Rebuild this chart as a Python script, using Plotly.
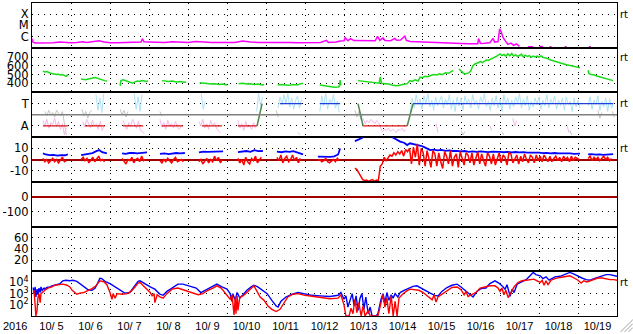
import plotly.graph_objects as go
from plotly.subplots import make_subplots

# ---------------- time axis: days since 2016-10-05 00:00 UT ----------------
DAY_LABELS = ["10/ 5", "10/ 6", "10/ 7", "10/ 8", "10/ 9", "10/10", "10/11", "10/12",
              "10/13", "10/14", "10/15", "10/16", "10/17", "10/18", "10/19"]
N_DAYS = 15

# ---------------- panel 1: GOES X-ray flux (W/m2) ----------------
XRAY_T = [0.0, 0.03, 0.1, 0.25, 0.4, 0.55, 0.7, 0.85, 1.0, 1.15, 1.3, 1.4, 1.5, 1.6, 1.72, 1.85,
          2.0, 2.2, 2.4, 2.55, 2.7, 2.8, 2.83, 2.87, 3.0, 3.2, 3.4, 3.6, 3.8, 4.0, 4.2, 4.4, 4.6,
          4.8, 5.0, 5.2, 5.4, 5.6, 5.8, 6.0, 6.2, 6.4, 6.6, 6.8, 7.0, 7.2, 7.4, 7.55, 7.6, 7.8,
          7.9, 8.0, 8.03, 8.1, 8.17, 8.25, 8.4, 8.6, 8.8, 8.86, 8.92, 9.0, 9.05, 9.2, 9.3, 9.35,
          9.45, 9.56, 9.6, 9.7, 9.85, 10.0, 10.2, 10.4, 10.6, 10.8, 11.0, 11.2, 11.43, 11.45,
          11.5, 11.6, 11.74, 11.82, 11.86, 11.95, 11.99, 12.03, 12.08, 12.15, 12.2, 12.28, 12.35,
          12.42, 12.5, None, 12.72, 12.85, None, 13.01, 13.1, None, 13.27, 13.32, None,
          13.66, 13.71, None, 14.28, 14.33]
XRAY_FLUX = [6.5e-7, 3.0e-7, 2.6e-7, 2.6e-7, 2.8e-7, 2.8e-7, 3.2e-7, 2.8e-7, 2.8e-7, 2.9e-7,
             3.4e-7, 3.0e-7, 3.3e-7, 3.6e-7, 4.2e-7, 3.2e-7, 2.8e-7, 2.8e-7, 3.0e-7, 3.1e-7,
             3.2e-7, 3.2e-7, 6.5e-7, 3.4e-7, 3.3e-7, 3.1e-7, 3.0e-7, 3.5e-7, 3.0e-7, 2.9e-7,
             3.6e-7, 3.0e-7, 2.9e-7, 3.0e-7, 3.2e-7, 3.0e-7, 4.0e-7, 3.2e-7, 3.0e-7, 3.1e-7,
             3.0e-7, 2.9e-7, 3.0e-7, 2.8e-7, 2.8e-7, 2.9e-7, 3.0e-7, 4.5e-7, 3.0e-7, 3.2e-7,
             4.0e-7, 4.2e-7, 8.0e-7, 4.3e-7, 6.5e-7, 4.4e-7, 4.2e-7, 4.0e-7, 4.1e-7, 1.05e-6,
             4.5e-7, 7.5e-7, 4.4e-7, 4.2e-7, 6.8e-7, 4.6e-7, 4.8e-7, 1.1e-6, 4.5e-7, 3.6e-7,
             3.4e-7, 3.0e-7, 2.8e-7, 2.7e-7, 2.7e-7, 2.5e-7, 2.4e-7, 2.3e-7, 2.3e-7, 6.5e-7,
             2.4e-7, 2.5e-7, 2.8e-7, 6.8e-7, 3.2e-7, 3.6e-7, 4.9e-6, 2.6e-6, 8.0e-7, 3.5e-7,
             2.0e-7, 2.6e-7, 1.6e-7, 2.2e-7, 1.3e-7, None, 1.2e-7, 1.2e-7, None, 1.3e-7, 1.3e-7,
             None, 1.2e-7, 1.2e-7, None, 1.2e-7, 1.2e-7, None, 1.2e-7, 1.2e-7]

# ---------------- panel 2: solar wind speed (km/s) ----------------
SPEED_T = [0.28, 0.33, 0.38, 0.43, 0.48, 0.53, 0.58, 0.63, 0.68, 0.73, 0.78, 0.83, 0.88, 0.92, None,
           1.26, 1.32, 1.38, 1.44, 1.5, 1.56, 1.62, 1.68, 1.74, 1.8, 1.86, 1.92, None,
           2.26, 2.28, 2.34, 2.4, 2.46, 2.52, 2.58, 2.64, 2.7, 2.76, 2.82, 2.88, 2.94, 2.97, None,
           3.33, 3.4, 3.5, 3.6, 3.7, 3.8, 3.9, 3.95, None,
           4.3, 4.4, 4.5, 4.6, 4.7, 4.8, 4.9, 5.0, None,
           5.3, 5.4, 5.5, 5.6, 5.7, 5.8, 5.9, 5.95, None,
           6.3, 6.4, 6.5, 6.6, 6.7, 6.8, 6.9, 6.95, None,
           7.38, 7.45, 7.55, 7.65, 7.75, 7.85, 7.88, 7.9, 7.92, None,
           8.36, 8.45, 8.55, 8.65, 8.75, 8.85, 8.9, 8.93, 8.96, 9.05, 9.15, 9.25, 9.35, 9.45,
           9.55, 9.62, 9.69, 9.75, 9.82, 9.9, 9.95, 10.0, 10.08, 10.15, 10.22, 10.3, 10.38,
           10.45, 10.52, 10.6, 10.68, 10.75, 10.8, None,
           10.95, 11.0, 11.05, 11.1, 11.15, 11.2, 11.25, 11.28, 11.3, 11.35, 11.4, 11.45, 11.5,
           11.55, 11.6, 11.65, 11.7, 11.75, 11.8, 11.85, 11.9, 11.95, 12.0, 12.05, 12.1, 12.15,
           12.2, 12.25, 12.3, 12.35, 12.4, 12.45, 12.5, 12.55, 12.6, 12.65, 12.7, 12.75, 12.8,
           12.85, 12.9, 12.95, 13.0, 13.05, 13.1, 13.2, 13.3, 13.4, 13.5, 13.6, 13.7, 13.8,
           13.9, 14.0, 14.05, None,
           14.26, 14.28, 14.35, 14.42, 14.5, 14.57, 14.63, 14.7, 14.77, 14.83, 14.9]
SPEED_V = [540, 530, 535, 520, 515, 510, 505, 500, 505, 495, 500, 490, 480, 500, None,
           450, 445, 440, 448, 450, 460, 465, 455, 445, 435, 430, 425, None,
           370, 430, 440, 430, 420, 405, 400, 415, 425, 420, 430, 425, 420, 430, None,
           430, 425, 420, 425, 415, 420, 410, 415, None,
           405, 400, 395, 390, 395, 385, 390, 380, None,
           395, 400, 390, 395, 385, 390, 380, 385, None,
           380, 385, 380, 375, 385, 380, 395, 400, None,
           380, 375, 360, 355, 352, 355, 365, 435, 375, None,
           430, 425, 420, 415, 410, 405, 400, 470, 400, 395, 390, 375, 370, 380,
           385, 395, 430, 420, 440, 425, 470, 465, 480, 475, 490, 500, 495,
           510, 500, 520, 515, 530, 550, None,
           565, 540, 520, 507, 510, 520, 540, 597, 600, 620, 630, 640, 650,
           640, 660, 670, 665, 680, 690, 700, 710, 730, 740, 720, 735, 715,
           740, 720, 745, 715, 730, 710, 725, 735, 705, 725, 710, 720, 700,
           715, 705, 715, 700, 720, 700, 690, 670, 655, 640, 630, 615, 605,
           595, 585, 580, None,
           550, 510, 500, 495, 480, 470, 465, 455, 445, 440, 430]

# ---------------- panel 3: IMF sector (T = toward, A = away) ----------------
SECTOR_AWAY_T = [0.28, 0.92, None, 1.36, 1.87, None, 2.33, 2.85, None, 3.33, 3.87, None,
                 4.36, 4.87, None, 5.28, 5.77, None, 8.49, 9.62]
SECTOR_AWAY_V = [-1, -1, None, -1, -1, None, -1, -1, None, -1, -1, None,
                 -1, -1, None, -1, -1, None, -1, -1]
SECTOR_TOWARD_T = [6.36, 6.92, None, 7.38, 7.90, None, 9.77, 14.90]
SECTOR_TOWARD_V = [1, 1, None, 1, 1, None, 1, 1]
SECTOR_CHANGE_T = [5.77, 5.90, None, 8.36, 8.49, None, 9.62, 9.77]
SECTOR_CHANGE_V = [-1, 1, None, 1, -1, None, -1, 1]

PHI_STEP = 0.05
PHI_TOWARD_STARTS = [1.64, 2.62, 4.34, 5.76, 6.31, 7.38, 9.70, 14.26]
PHI_TOWARD_VALUES = [
    [1.8, 0.4, 1.5, 0.2, 1.9],
    [1.9, 0.5, 1.6, 0.3, 1.8],
    [1.9, 0.5, 1.2],
    [0.3, 1.9, 0.8, 1.6],
    [0.6, 1.6, 0.9, 1.8, 1.0, 1.9, 0.7, 1.5, 0.5, 1.3, 1.7, 0.6, 1.4],
    [0.3, 1.7, 0.8, 1.9, 0.5, 1.4, 1.0, 1.8, 0.6, 1.2, 0.2],
    [0.2, 1.5, 0.6, 1.8, 0.9, 1.4, 0.5, 1.7, 1.0, 1.9, 0.7, 1.3, 0.4, 1.6, 0.8, 1.2, 1.7, 0.6, 1.4, 0.9,
     1.8, 0.5, 1.3, 0.3, 1.6, 0.8, 1.5, 0.4, 1.7, 1.0, 1.4, 0.6, 1.8, 0.9, 1.3, 0.5, 1.6, 1.1, 1.9, 0.7,
     1.2, 0.4, 1.5, 0.8, 1.7, 0.6, 1.4, 0.3, 1.8, 0.9, 1.5, 0.5, 1.3, 0.7, 1.6, 1.0, 1.9, 0.6, 1.4, 0.8,
     1.7, 0.4, 1.2, 0.7, 1.5, 0.9, 1.6, 0.5, 1.3, 0.8, 1.8, 0.6, 1.4, 1.0, 1.7, 0.5, 1.3, 0.8, 1.5, 0.4,
     1.6, 0.9, 1.2, 0.3, 1.5, 0.7, 1.3, 0.6],
    [0.8, 1.6, 0.5, 1.3, 0.9, 1.7, 0.4, 1.2, 0.7, 1.5, 0.3, 1.4, 0.6, 1.1],
]
PHI_AWAY_STARTS = [0.28, 1.30, 2.33, 3.28, 4.28, 5.28, 8.49, 10.36, 11.74, 12.33, 13.72]
PHI_AWAY_VALUES = [
    [-0.5, -1.0, -0.4, -1.2, -0.7, -0.9, -0.3, -1.1, -0.6, -1.3, -0.8, -1.8, -1.2],
    [-0.6, -1.1, -0.4, -0.9, -1.2, -0.5, -1.0, -0.8, -1.3, -0.6, -1.4, -1.0],
    [-0.5, -1.0, -1.3, -0.7, -1.1, -0.4, -0.9, -1.2, -0.6, -1.4, -1.5, -1.7],
    [-0.4, -1.1, -0.7, -1.3, -0.5, -1.0, -0.8, -1.2, -0.6, -1.1, -1.3, -1.0],
    [-0.6, -1.0, -0.4, -1.2, -0.8, -1.3, -0.5, -1.0, -0.7, -1.2, -1.4, -1.6],
    [-0.5, -1.2, -0.8, -1.4, -0.6, -1.1, -1.0, -1.3, -0.7, -1.2],
    [-0.3, -0.8, -0.5, -0.7, -0.4, -0.6, -0.8, -0.5, -0.7, -1.2, -1.5, -1.3, -1.4, -1.2, -1.5,
     -1.3, -1.4, -1.6, -1.3, -1.4, -1.2, -1.5, -1.3],
    [-0.8, -1.6],
    [-1.0, -1.4],
    [-0.3, -1.0, -0.5],
    [-1.0, -1.6],
]
PHI_OTHER_STARTS = [0.33, 1.28, 2.26, 3.28, 6.26, 6.82, 8.28, 11.00, 12.05, 13.79, 14.51, 14.88]
PHI_OTHER_VALUES = [
    [0.3, -0.1, 0.4, 0.0, 0.2, -0.2, 0.4, 0.1, -0.1, 0.3, -1.0, -1.8],
    [0.5, -0.1, 0.3, -0.3, 0.2, 0.4],
    [0.5, 0.0, 0.4, -0.2, 0.3],
    [0.3, -0.1],
    [0.4, -0.2],
    [-1.6, -1.8],
    [0.4, -0.2, 0.3, -0.4, 0.1],
    [-1.4, -1.8, -1.5],
    [-1.5, -1.8],
    [-1.4, -1.8],
    [0.4, -0.3, 0.2],
    [0.3, -0.2],
]

# ---------------- panel 4: IMF Bt / Bz (nT) ----------------
BT_T = [0.28, 0.35, 0.45, 0.55, 0.65, 0.75, 0.85, 0.92, None,
        1.26, 1.35, 1.45, 1.55, 1.65, 1.72, 1.8, 1.92, None,
        2.31, 2.4, 2.5, 2.6, 2.7, 2.8, 2.95, None,
        3.28, 3.4, 3.5, 3.6, 3.7, 3.8, 3.92, None,
        4.28, 4.4, 4.5, 4.6, 4.7, 4.8, 4.9, None,
        5.28, 5.4, 5.5, 5.6, 5.7, 5.8, 5.92, None,
        6.28, 6.4, 6.5, 6.6, 6.7, 6.8, 6.95, None,
        7.33, 7.45, 7.55, 7.65, 7.75, 7.85, 7.9, None,
        8.28, 8.36, 8.46, 8.55, 8.9, 9.2, 9.26, 9.31, 9.36, 9.44, 9.54, 9.62, 9.69, 9.77, 9.87,
        9.97, 10.03, 10.1, 10.21, 10.3, 10.4, 10.5, 10.6, 10.7, 10.79, 10.9, 11.0, 11.1, 11.2,
        11.3, 11.4, 11.5, 11.6, 11.7, 11.8, 11.9, 12.0, 12.1, 12.2, 12.3, 12.4, 12.5, 12.6,
        12.7, 12.8, 12.9, 13.0, 13.1, 13.2, 13.3, 13.4, 13.5, 13.6, 13.7, 13.8, 13.9, 14.05, None,
        14.26, 14.35, 14.45, 14.55, 14.65, 14.75, 14.9]
BT_V = [5.5, 4.5, 4, 4.2, 3.5, 4, 3.8, 4.5, None,
        4, 4.5, 5.5, 5.8, 7.5, 8.4, 6.5, 5.5, None,
        5.5, 5, 5.8, 6, 5.5, 6, 6.3, None,
        5, 5.5, 4.8, 5.5, 5.8, 5.5, 5.8, None,
        6.3, 7, 6.8, 7, 7.2, 7, 7.3, None,
        6.5, 7, 7.6, 6.8, 8.4, 7.5, 7.6, None,
        7, 6.5, 7.2, 6.8, 7.5, 6.5, 4.5, None,
        2.5, 2.2, 2.5, 2.3, 2.8, 4.5, 9.9, None,
        16.5, 17.5, 19.2, 23, 24, 22, 19.4, 18.5, 17.5, 16, 15, 12.9, 14.5, 14, 13,
        12.3, 11.5, 10.5, 8.4, 8.8, 8.2, 8.6, 7.8, 8.2, 7.6, 7.8, 7.2, 7.6, 6.9,
        7.3, 6.8, 7.2, 6.9, 6.6, 7.0, 6.6, 6.8, 6.5, 6.9, 6.4, 6.7, 6.3, 6.6,
        6.2, 6.4, 6.0, 6.2, 5.7, 6.0, 5.5, 5.8, 5.4, 5.6, 5.3, 5.5, 5.1, 5.3, None,
        4.5, 4.8, 4.3, 4.6, 4.2, 4.5, 4.8]

BZ_STEP = 0.05
BZ_STARTS = [0.28, 1.26, 2.31, 3.28, 4.28, 5.28, 6.28, 7.33, 8.28, 14.26]
BZ_VALUES = [
    [1, -2, 0, -3, -1, 1, -2, 0, -3, -1, 2, -2, -1],
    [0, 2, -1, 1, -3, 0, 2, -2, 1, 3, -1, 0, -2],
    [1, -2, -4, 0, -1, 2, -3, 0, 1, -2, 3, -1, 0],
    [-1, -3, 0, -2, 1, -1, -3, 0, 2, -2, -1, 0, -2],
    [-2, 0, -4, -1, 1, -3, 0, -2, 3, -1, 2, -3, 0],
    [1, -3, 0, -5, 2, -2, -4, 1, -1, 3, -3, 0, 2],
    [2, -1, 4, -3, 1, 3, -2, 0, 4, -1, 2, -3, 1],
    [-1, 0, -2, -1, 1, -2, -3, -1, 0, -2, 1, -1],
    [-7.8, -9, -12, -15, -18, -19, -18.5, -19.5, -19, -18, -19.5, -18.5, -19, -6, -4, 2, -1, 1, 4, 3,
     6, 4, 7, 5, 8, 3, 9, 7, 10, -4, 11, 2, 14, -5, 10, 6, -6, 8, 1, -7,
     8, 5, -6, 6, -2, -8, 7, 3, -4, 8, -6, 2, 5, -7, 7, 1, -5, 6, 4, -3,
     6, -5, 2, 7, -4, 5, -1, -6, 6, 3, -4, 5, -5, 1, 6, -3, 4, 2, -5, 6,
     5, -3, 1, 4, -4, 3, -2, 5, 0, -3, 4, 2, -3, 4, -1, 3, -2, 4, 1, -2,
     3, -2, 1, 3, -1, 2, -2, 3, 0, 2, -2, 3, -1, 2, 1, 0],
    [1, 3, -1, 2, 0, 2, -1, 1, 3, 0, 2, -1, 1],
]

# ---------------- panel 5: Dst (nT) and panel 6: (no data in this window) ----------------

# ---------------- panel 7: >2 MeV electron flux (log10 of flux) ----------------
ELEC_A_T = [0.03, 0.05, 0.08, 0.10, 0.13, 0.15, 0.18, 0.21, 0.23, 0.26, 0.31, 0.33, 0.38, 0.46,
            0.51, 0.59, 0.67, 0.72, 0.79, 0.87, 0.97, 1.05, 1.15, 1.23, 1.33, 1.44, 1.54, 1.62,
            1.69, 1.74, 1.79, 1.87, 2.00, 2.13, 2.26, 2.38, 2.51, 2.62, 2.72, 2.77, 2.90, 3.03,
            3.15, 3.23, 3.28, 3.36, 3.46, 3.59, 3.74, 3.87, 4.05, 4.21, 4.33, 4.46, 4.62, 4.74,
            4.87, 5.00, 5.08, 5.13, 5.15, 5.21, 5.26, 5.33, 5.41, 5.51, 5.62, 5.69, 5.79, 5.90,
            6.03, 6.15, 6.26, 6.31, 6.38, 6.51, 6.67, 6.82, 7.00, 7.18, 7.38, 7.64, 7.85, 7.92,
            8.00, 8.05, 8.10, 8.15, 8.21, 8.26, 8.31, 8.36, 8.41, 8.46, 8.51, 8.56, 8.62, 8.67,
            8.72, 8.82, 8.87, 8.95, 9.00, 9.05, 9.10, 9.15, 9.21, 9.26, 9.31, 9.38, 9.44, 9.54,
            9.67, 9.77, 9.87, 9.97, 10.08, 10.21, 10.33, 10.41, 10.51, 10.64, 10.77, 10.90,
            11.00, 11.10, 11.21, 11.31, 11.41, 11.51, 11.64, 11.74, 11.87, 11.97, 12.05, 12.13,
            12.18, 12.26, 12.31, 12.36, 12.44, 12.54, 12.67, 12.77, 12.85, 12.92, 13.03, 13.10,
            13.18, 13.26, 13.33, 13.41, 13.54, 13.67, 13.79, 13.90, 14.00, 14.10, 14.21, 14.31,
            14.41, 14.51, 14.62, 14.72, 14.82, 14.92, 15.00]
ELEC_A_LOG = [3.55, 3.0, 3.6, 2.7, 3.4, 2.9, 3.5, 3.1, 3.6, 3.3, 3.5, 3.4, 3.55, 3.6,
              3.7, 3.8, 3.85, 3.9, 4.15, 4.2, 4.15, 4.2, 4.1, 3.9, 3.6, 3.35, 3.3, 3.5,
              4.0, 4.38, 4.35, 4.1, 3.9, 3.6, 3.3, 3.05, 3.1, 3.6, 4.1, 4.15, 3.85, 3.6,
              3.4, 3.1, 2.95, 2.85, 3.2, 3.5, 3.85, 3.85, 3.65, 3.5, 3.1, 3.35, 3.6, 3.85,
              3.6, 3.4, 3.0, 2.3, 3.0, 2.4, 3.1, 2.6, 2.9, 3.3, 3.6, 3.75, 3.6, 3.3,
              3.0, 2.4, 1.9, 1.8, 2.3, 2.7, 2.95, 3.1, 2.95, 2.85, 2.8, 2.75, 2.85, 3.1,
              2.5, 2.8, 1.8, 2.4, 3.0, 1.9, 2.8, 1.5, 2.6, 3.0, 1.6, 2.7, 1.2, 1.8,
              1.0, 1.0, 1.2, 2.5, 3.0, 2.2, 3.1, 2.4, 2.9, 2.6, 3.0, 2.7, 3.1, 3.3,
              3.5, 3.65, 3.7, 3.5, 3.25, 3.05, 2.85, 2.8, 3.2, 3.55, 3.75, 3.85,
              3.6, 3.3, 2.95, 2.7, 3.2, 3.45, 3.5, 3.9, 4.15, 3.95, 3.7, 3.4,
              3.8, 2.75, 3.4, 3.1, 3.85, 4.0, 4.25, 4.6, 4.9, 4.7, 4.6, 4.35,
              4.5, 4.2, 4.35, 4.5, 4.55, 4.7, 4.9, 4.75, 4.55, 4.4, 4.25, 4.2,
              4.35, 4.45, 4.6, 4.7, 4.7, 4.65, 4.55]
ELEC_B_T = [0.03, 0.05, 0.08, 0.10, 0.13, 0.15, 0.18, 0.21, 0.23, 0.28, 0.33, 0.41, 0.51, 0.59,
            0.67, 0.72, 0.79, 0.90, 0.97, 1.03, 1.10, 1.15, 1.23, 1.33, 1.44, 1.54, 1.64, 1.74,
            1.85, 1.92, 2.00, 2.05, 2.08, 2.13, 2.18, 2.31, 2.44, 2.54, 2.64, 2.72, 2.77, 2.85,
            2.95, 3.03, 3.08, 3.13, 3.15, 3.21, 3.28, 3.36, 3.46, 3.59, 3.74, 3.87, 4.00, 4.13,
            4.26, 4.38, 4.51, 4.64, 4.74, 4.85, 4.95, 5.03, 5.08, 5.13, 5.18, 5.21, 5.23, 5.26,
            5.28, 5.33, 5.41, 5.51, 5.62, 5.69, 5.77, 5.85, 5.95, 6.05, 6.15, 6.26, 6.36, 6.46,
            6.56, 6.69, 6.82, 7.00, 7.18, 7.38, 7.64, 7.85, 7.92, 8.00, 8.05, 8.13, 8.18, 8.23,
            8.28, 8.33, 8.38, 8.44, 8.49, 8.54, 8.62, 8.67, 8.87, 8.95, 9.00, 9.05, 9.10, 9.15,
            9.21, 9.26, 9.31, 9.36, 9.41, 9.49, 9.59, 9.69, 9.82, 9.92, 10.03, 10.15, 10.26,
            10.31, 10.36, 10.41, 10.51, 10.64, 10.77, 10.90, 11.00, 11.08, 11.13, 11.18, 11.28,
            11.38, 11.49, 11.62, 11.74, 11.87, 11.95, 12.00, 12.05, 12.10, 12.15, 12.21, 12.28,
            12.36, 12.46, 12.56, 12.67, 12.77, 12.87, 12.95, 13.03, 13.08, 13.13, 13.18, 13.23,
            13.31, 13.41, 13.54, 13.67, 13.79, 13.90, 14.00, 14.08, 14.15, 14.23, 14.31, 14.41,
            14.51, 14.62, 14.72, 14.82, 14.92, 15.00]
ELEC_B_LOG = [3.1, 3.3, 2.0, 1.0, 1.5, 2.6, 3.0, 2.2, 3.0, 3.2, 3.3, 3.5, 3.6, 3.75,
              3.8, 3.8, 3.85, 3.75, 3.6, 3.3, 3.1, 2.95, 3.05, 3.1, 3.3, 3.45, 3.7, 4.15,
              4.05, 3.8, 3.1, 2.5, 3.0, 2.6, 3.0, 2.95, 3.0, 3.2, 3.6, 3.95, 4.0, 3.75,
              3.4, 3.1, 2.8, 3.0, 2.2, 2.9, 2.7, 2.6, 3.0, 3.4, 3.5, 3.35, 3.2, 3.0,
              2.9, 3.0, 3.3, 3.5, 3.7, 3.5, 3.1, 2.8, 2.5, 2.9, 1.1, 2.6, 1.2, 2.8,
              1.5, 2.7, 2.8, 3.1, 3.5, 3.7, 3.2, 2.7, 2.4, 1.9, 1.6, 1.4, 1.6, 2.2,
              2.7, 2.95, 3.0, 2.85, 2.75, 2.65, 2.55, 2.6, 2.9, 2.0, 1.0, 1.0, 1.7, 1.2,
              2.5, 1.3, 2.2, 1.0, 1.9, 1.0, 1.5, 1.0, 1.0, 2.2, 2.9, 1.8, 2.6, 1.2,
              2.8, 1.0, 2.3, 1.0, 2.6, 2.9, 3.2, 3.4, 3.35, 3.3, 3.1, 2.8, 2.45,
              2.9, 2.25, 2.7, 2.95, 3.3, 3.55, 3.6, 3.35, 2.9, 3.2, 2.75, 2.9,
              3.1, 3.5, 3.6, 3.7, 3.7, 3.5, 3.2, 3.5, 2.9, 3.3, 2.65, 3.1,
              3.6, 4.0, 4.15, 4.2, 4.25, 4.3, 4.15, 4.0, 4.2, 3.75, 4.15, 3.8,
              4.2, 4.35, 4.45, 4.55, 4.6, 4.4, 4.2, 3.95, 4.15, 4.05, 4.15, 4.3,
              4.4, 4.4, 4.3, 4.25, 4.25, 4.2]
ELEC_ALERT_LOG = 4  # 10^4 alert threshold

# ---------------- colours ----------------
MAGENTA = "#ff00ff"
SPEED_GREEN = "#18dc18"
LIGHT_BLUE = "#aee2f4"
PINK = "#f6b6ec"
LIGHT_GRAY = "#c4c4c4"
RED = "#ff0000"
SECTOR_RED = "#e01010"
BLUE = "#0000ff"
DARK_RED = "#a00000"
CHANGE_GREEN = "#4c8a4c"


def segments(starts, values_list, step):
    t, v = [], []
    for s, vals in zip(starts, values_list):
        t += [round(s + i * step, 3) for i in range(len(vals))] + [None]
        v += list(vals) + [None]
    return t, v


fig = make_subplots(rows=7, cols=1, shared_xaxes=True, vertical_spacing=0)

def line(x, y, color, width, row):
    fig.add_trace(go.Scatter(x=x, y=y, mode="lines", line=dict(color=color, width=width),
                             connectgaps=False, showlegend=False, hoverinfo="skip"),
                  row=row, col=1)

# panel 1
line(XRAY_T, XRAY_FLUX, MAGENTA, 1.5, 1)
# panel 2
line(SPEED_T, SPEED_V, SPEED_GREEN, 1.5, 2)
# panel 3
t, v = segments(PHI_OTHER_STARTS, PHI_OTHER_VALUES, PHI_STEP)
line(t, v, LIGHT_GRAY, 1, 3)
t, v = segments(PHI_AWAY_STARTS, PHI_AWAY_VALUES, PHI_STEP)
line(t, v, PINK, 1, 3)
t, v = segments(PHI_TOWARD_STARTS, PHI_TOWARD_VALUES, PHI_STEP)
line(t, v, LIGHT_BLUE, 1, 3)
line(SECTOR_AWAY_T, SECTOR_AWAY_V, SECTOR_RED, 1.2, 3)
line(SECTOR_TOWARD_T, SECTOR_TOWARD_V, "#2040e0", 1.2, 3)
line(SECTOR_CHANGE_T, SECTOR_CHANGE_V, CHANGE_GREEN, 1.5, 3)
# panel 4
line(BT_T, BT_V, BLUE, 1.8, 4)
t, v = segments(BZ_STARTS, BZ_VALUES, BZ_STEP)
line(t, v, RED, 1.5, 4)
# panel 5 / 6 carry no data; invisible placeholders keep their subplots alive
fig.add_trace(go.Scatter(x=[], y=[], showlegend=False), row=5, col=1)
fig.add_trace(go.Scatter(x=[], y=[], showlegend=False), row=6, col=1)
# panel 7
line(ELEC_A_T, [10 ** e for e in ELEC_A_LOG], BLUE, 1.4, 7)
line(ELEC_B_T, [10 ** e for e in ELEC_B_LOG], RED, 1.4, 7)

DOT = "1px,5px"
YFONT = dict(family="DejaVu Sans", size=11.5, color="black")

for r in range(1, 8):
    fig.update_xaxes(row=r, col=1, range=[0, N_DAYS], showgrid=False, zeroline=False,
                     tickmode="array", tickvals=[d + 0.5 for d in range(N_DAYS)], ticktext=DAY_LABELS,
                     ticks="", showline=True, mirror=True, linecolor="black", linewidth=1,
                     tickfont=dict(family="Liberation Sans, Arial", size=11, color="black"),
                     minor=dict(tickmode="array", tickvals=list(range(1, N_DAYS)), showgrid=True,
                                gridcolor="black", griddash=DOT, gridwidth=1.2, ticks=""))

ycommon = dict(showline=True, mirror=True, linecolor="black", linewidth=1, ticks="",
               tickfont=YFONT, showgrid=True, gridcolor="black", griddash=DOT, gridwidth=1.2,
               zeroline=False, tickmode="array")

fig.update_yaxes(row=1, col=1, type="log", range=[-7, -3], tickvals=[1e-4, 1e-5, 1e-6],
                 ticktext=["X", "M", "C"], **ycommon)
fig.update_yaxes(row=2, col=1, range=[293, 812], tickvals=[400, 500, 600, 700],
                 ticktext=["400", "500", "600", "700"], **ycommon)
fig.update_yaxes(row=3, col=1, range=[-2, 2], tickvals=[1, -1], ticktext=["T", "A"], **ycommon)
fig.update_yaxes(row=4, col=1, range=[-20, 20], tickvals=[10, 0, -10],
                 ticktext=["10", "0", "-10"], **ycommon)
fig.update_yaxes(row=5, col=1, range=[-200, 100], tickvals=[0, -100],
                 ticktext=["0", "-100"], **ycommon)
fig.update_yaxes(row=6, col=1, range=[0, 80], tickvals=[20, 40, 60],
                 ticktext=["20", "40", "60"], **ycommon)
y7 = dict(ycommon)
y7["showgrid"] = False
fig.update_yaxes(row=7, col=1, type="log", range=[1, 5], tickvals=[1e2, 1e3, 1e4],
                 ticktext=["10<sup>2</sup>", "10<sup>3</sup>", "10<sup>4</sup>"],
                 minor=dict(tickmode="array", tickvals=[1e2, 1e3], showgrid=True,
                            gridcolor="black", griddash=DOT, gridwidth=1.2, ticks=""), **y7)
for ax in ("yaxis4", "yaxis5"):
    fig.layout[ax].update(zeroline=True, zerolinecolor=DARK_RED, zerolinewidth=1.5)

shapes = [
    dict(type="line", xref="x3 domain", x0=0, x1=1, yref="y3", y0=0, y1=0,
         line=dict(color="#808080", width=1.5), layer="above"),
    dict(type="line", xref="x7 domain", x0=0, x1=1, yref="y7", y0=ELEC_ALERT_LOG, y1=ELEC_ALERT_LOG,
         line=dict(color="#b00000", width=1.5, dash="7px,3px"), layer="above"),
]
# window resize grip (decoration)
for k in range(3):
    shapes.append(dict(type="line", xref="paper", yref="paper",
                       x0=1.006 + 0.0068 * k, y0=-0.051, x1=1.027, y1=-0.012 - 0.0125 * k,
                       line=dict(color="#a0a0a0", width=1)))
fig.update_layout(shapes=shapes)

annotations = [dict(text="2016", xref="paper", yref="paper", x=0, y=0, xanchor="right",
                    yanchor="top", xshift=-3, yshift=-2, showarrow=False,
                    font=dict(family="Liberation Sans, Arial", size=11, color="black"))]
for yref, yval in (("y", -4), ("y2", 700), ("y3", 1), ("y4", 10), ("y7", ELEC_ALERT_LOG)):
    annotations.append(dict(text="rt", xref="paper", x=1, xanchor="left", xshift=1,
                            yref=yref, y=yval, yanchor="middle", showarrow=False,
                            font=dict(family="DejaVu Sans", size=10, color="black")))
fig.update_layout(annotations=annotations)

fig.update_layout(width=633, height=334, margin=dict(l=32, r=16, t=2, b=17),
                  paper_bgcolor="white", plot_bgcolor="white", showlegend=False,
                  font=dict(family="Liberation Sans, Arial", color="black"))

fig.write_html("out.html", config={"displayModeBar": False})
